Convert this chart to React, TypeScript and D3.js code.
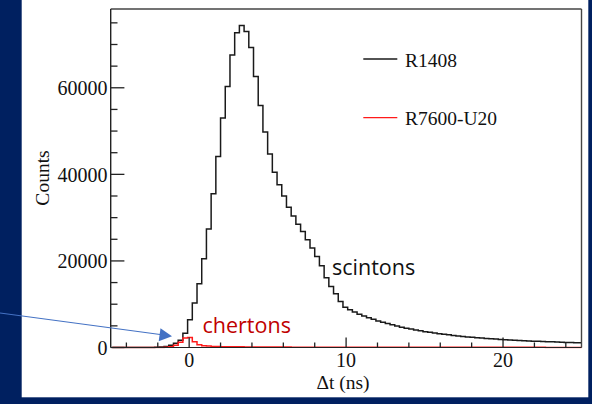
import React from "react";
import * as d3 from "d3";

const binStart = -4.9;
const binWidth = 0.3;

const countsR1408 = [
  0, 0, 0, 0, 0, 0, 0, 0, 20, 50,
  100, 250, 500, 1000, 1700, 3300, 6400, 10300, 14700, 20500,
  27400, 35500, 44100, 53000, 60300, 67600, 72700, 74400, 73000, 69300,
  62600, 55900, 49800, 44700, 40500, 37600, 35000, 32400, 30400, 28500,
  26800, 24900, 23000, 21000, 18900, 16100, 14100, 12400, 10600, 9300,
  8700, 8200, 7700, 7300, 6900, 6500, 6150, 5850, 5550, 5250,
  4950, 4700, 4450, 4250, 4050, 3850, 3650, 3500, 3350, 3200,
  3050, 2920, 2800, 2680, 2560, 2450, 2350, 2260, 2170, 2090,
  2010, 1940, 1870, 1800, 1740, 1680, 1620, 1570, 1520, 1470,
  1420, 1380, 1340, 1300, 1260, 1220, 1180, 1150, 1110, 1080,
];

const countsR7600 = [
  0, 0, 0, 0, 0, 0, 0, 0, 0, 0,
  10, 50, 150, 500, 1200, 2200, 2300, 1300, 650, 420,
  320, 260, 220, 200, 180, 170, 160, 150, 140, 130,
  120, 115, 110, 105, 100, 95, 92, 88, 85, 82,
  80, 78, 75, 72, 70, 68, 66, 64, 62, 60,
  58, 57, 56, 55, 54, 53, 52, 51, 50, 49,
  48, 47, 46, 45, 44, 43, 42, 42, 41, 40,
  40, 39, 38, 38, 37, 36, 36, 35, 35, 34,
  34, 33, 33, 32, 32, 31, 31, 30, 30, 30,
  29, 29, 28, 28, 28, 27, 27, 26, 26, 26,
];

const xDomain = [-5, 25];
const yDomain = [0, 78200];
const xMajorTicks = [0, 10, 20];
const xMinorTicks = [-4, -2, 2, 4, 6, 8, 12, 14, 16, 18, 22, 24];
const yMajorTicks = [0, 20000, 40000, 60000];
const yMinorTicks = [5000, 10000, 15000, 25000, 30000, 35000, 45000, 50000, 55000, 65000, 70000, 75000];

const legendItems = [
  { label: "R1408", color: "#1a1a1a" },
  { label: "R7600-U20", color: "#ff1a1a" },
];

export default function App() {
  const W = 592, H = 404;
  const L = 110.7, R = 581.5, T = 9, B = 347.5;
  const x = d3.scaleLinear().domain(xDomain).range([L, R]);
  const y = d3.scaleLinear().domain(yDomain).range([B, T]);

  const stepPath = (vals: number[]) => {
    const pts: [number, number][] = [];
    vals.forEach((v, k) => {
      const x0 = binStart + k * binWidth;
      pts.push([x0, v]);
      pts.push([x0 + binWidth, v]);
    });
    const line = d3.line<[number, number]>().x((d) => x(d[0])).y((d) => y(d[1]));
    return line(pts) || "";
  };

  const serif = "'Liberation Serif', 'Times New Roman', serif";
  const sans = "'Open Sans', 'Noto Sans', sans-serif";

  return (
    <svg width={W} height={H} style={{ position: "absolute", left: 0, top: 0 }}>
      <rect x={0} y={0} width={W} height={H} fill="#002060" />
      <rect x={21.7} y={0} width={566.6} height={397.3} fill="#ffffff" />
      <defs>
        <clipPath id="plotclip">
          <rect x={L} y={T} width={R - L} height={B - T + 1} />
        </clipPath>
      </defs>
      <g clipPath="url(#plotclip)">
        <path d={stepPath(countsR1408)} fill="none" stroke="#1a1a1a" strokeWidth={1.5} />
        <path d={stepPath(countsR7600)} fill="none" stroke="#ff1a1a" strokeWidth={1.5} />
      </g>
      {/* frame */}
      <line x1={L} x2={R} y1={T} y2={T} stroke="#444" strokeWidth={1.4} />
      <line x1={R} x2={R} y1={T} y2={B} stroke="#444" strokeWidth={1.4} />
      <line x1={L} x2={L} y1={T} y2={B} stroke="#222" strokeWidth={1.4} />
      <line x1={L} x2={R} y1={B} y2={B} stroke="#222" strokeWidth={1.0} />
      {/* x ticks */}
      {xMajorTicks.map((t) => (
        <g key={"xm" + t}>
          <line x1={x(t)} x2={x(t)} y1={B} y2={B - 10} stroke="#222" strokeWidth={1.3} />
          <text x={x(t)} y={367} textAnchor="middle" fontFamily={serif} fontSize={20} fill="#111">
            {t}
          </text>
        </g>
      ))}
      {xMinorTicks.map((t) => (
        <line key={"xn" + t} x1={x(t)} x2={x(t)} y1={B} y2={B - 5} stroke="#222" strokeWidth={1.3} />
      ))}
      {/* y ticks */}
      {yMajorTicks.map((t) => (
        <g key={"ym" + t}>
          <line x1={L} x2={L + 13.7} y1={y(t)} y2={y(t)} stroke="#222" strokeWidth={1.3} />
          <text x={107.5} y={y(t) + 7.5} textAnchor="end" fontFamily={serif} fontSize={20} fill="#111">
            {t}
          </text>
        </g>
      ))}
      {yMinorTicks.map((t) => (
        <line key={"yn" + t} x1={L} x2={L + 6.8} y1={y(t)} y2={y(t)} stroke="#222" strokeWidth={1.3} />
      ))}
      {/* axis titles */}
      <text x={343} y={389} textAnchor="middle" fontFamily={serif} fontSize={19.5} fill="#111">
        Δt (ns)
      </text>
      <text
        transform="translate(49,178) rotate(-90)"
        textAnchor="middle"
        fontFamily={serif}
        fontSize={19.5}
        fill="#111"
      >
        Counts
      </text>
      {/* legend */}
      {legendItems.map((it, i) => (
        <g key={it.label}>
          <line x1={363.3} x2={397.3} y1={59 + i * 58.7} y2={59 + i * 58.7} stroke={it.color} strokeWidth={1.3} />
          <text x={405} y={66.7 + i * 58.7} fontFamily={serif} fontSize={19.5} fill="#111">
            {it.label}
          </text>
        </g>
      ))}
      {/* annotations */}
      <text x={332} y={275} fontFamily={sans} fontSize={21.5} fill="#111">
        scintons
      </text>
      <text x={202.5} y={333.3} fontFamily={sans} fontSize={21.5} fill="#c00000">
        chertons
      </text>
      <line x1={0} y1={313} x2={162} y2={334.7} stroke="#4472c4" strokeWidth={1.1} />
      <path d="M172,336.2 L160.5,328.2 L158.7,341.2 Z" fill="#4472c4" />
    </svg>
  );
}
